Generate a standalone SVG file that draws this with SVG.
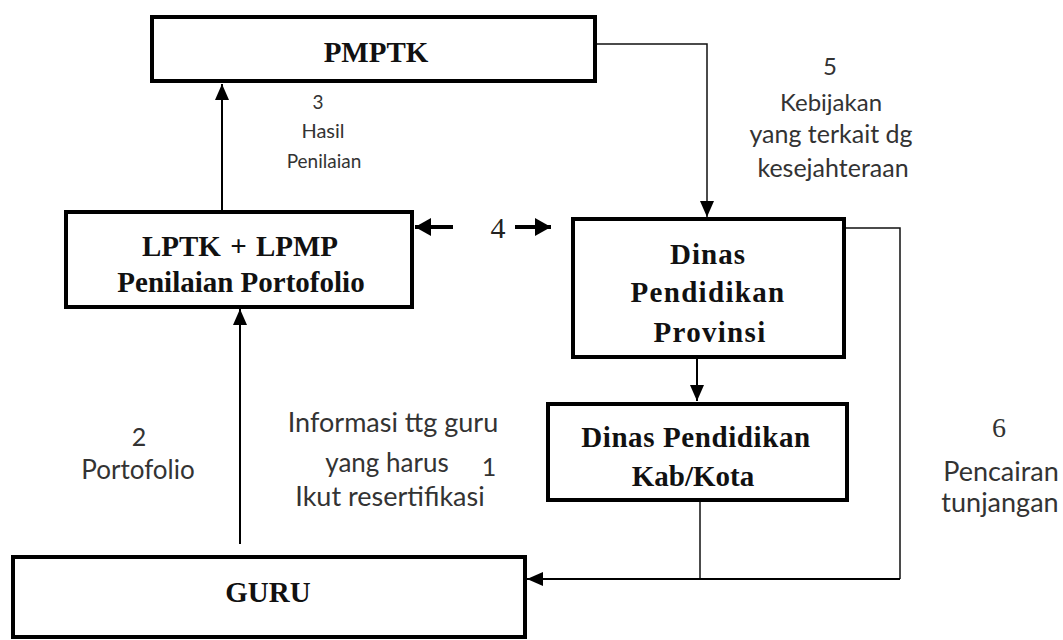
<svg xmlns="http://www.w3.org/2000/svg" width="1063" height="640" viewBox="0 0 1063 640">
<defs>
<style>
.box{fill:#fff;stroke:#000;stroke-width:4}
.node{font-family:"Liberation Serif","Times New Roman",serif;font-weight:bold;font-size:29px;fill:#111;text-anchor:middle}
.lbl{font-family:Lato,"Open Sans",sans-serif;fill:#333;text-anchor:middle}
.conn{fill:none;stroke:#000;stroke-width:2}
.thin{fill:none;stroke:#111;stroke-width:1.5}
.thick{fill:none;stroke:#000;stroke-width:4}
</style>
<marker id="ah" markerUnits="userSpaceOnUse" viewBox="0 0 16 14" markerWidth="16" markerHeight="14" refX="16" refY="7" orient="auto">
<path d="M0,0 L16,7 L0,14 z" fill="#000"/>
</marker>
<marker id="ahb" markerUnits="userSpaceOnUse" viewBox="0 0 16 18" markerWidth="16" markerHeight="18" refX="16" refY="9" orient="auto">
<path d="M0,0 L16,9 L0,18 z" fill="#000"/>
</marker>
</defs>
<rect width="1063" height="640" fill="#fff"/>

<g id="connectors">
<path class="conn" d="M222,211 L222,84" marker-end="url(#ah)"/>
<path class="thin" d="M595,44 L707,44 L707,217" marker-end="url(#ah)"/>
<path class="conn" d="M240,544 L240,309" marker-end="url(#ah)"/>
<path class="conn" d="M697,358 L697,401" marker-end="url(#ah)"/>
<path class="thin" d="M844,228 L900,228 L900,579"/>
<path class="thin" d="M700,501 L700,579"/>
<path class="conn" d="M900,579 L527,579" marker-end="url(#ah)"/>
<path class="thick" d="M453,227 L415,227" marker-end="url(#ahb)"/>
<path class="thick" d="M515,227 L551,227" marker-end="url(#ahb)"/>
</g>

<g id="pmptk">
<rect class="box" x="152" y="17" width="443" height="64"/>
<text class="node" x="376" y="62" font-size="30">PMPTK</text>
</g>

<g id="lptk">
<rect class="box" x="66" y="212" width="346" height="95"/>
<text class="node" x="240" y="256" font-size="32" word-spacing="2">LPTK + LPMP</text>
<text class="node" x="241" y="292" font-size="30">Penilaian Portofolio</text>
</g>

<g id="dinas-prov">
<rect class="box" x="573" y="219" width="271" height="138"/>
<text class="node" x="708" y="264" letter-spacing="1">Dinas</text>
<text class="node" x="708" y="302" letter-spacing="1.3">Pendidikan</text>
<text class="node" x="710" y="342" letter-spacing="1.3">Provinsi</text>
</g>

<g id="dinas-kab">
<rect class="box" x="548" y="404" width="299" height="96"/>
<text class="node" x="696" y="447" font-size="31" letter-spacing="0.6">Dinas Pendidikan</text>
<text class="node" x="693" y="486" font-size="31">Kab/Kota</text>
</g>

<g id="guru">
<rect class="box" x="13" y="557" width="512" height="80"/>
<text class="node" x="268" y="602" font-size="31">GURU</text>
</g>

<g id="labels">
<text class="lbl" x="318" y="109" font-size="19">3</text>
<text class="lbl" x="323" y="138" font-size="20">Hasil</text>
<text class="lbl" x="324" y="168" font-size="19">Penilaian</text>

<text x="498" y="238" font-family="Liberation Serif,serif" font-size="30" fill="#222" text-anchor="middle">4</text>

<text class="lbl" x="830" y="75" font-size="24">5</text>
<text class="lbl" x="831" y="111" font-size="24">Kebijakan</text>
<text class="lbl" x="831" y="143" font-size="25">yang terkait dg</text>
<text class="lbl" x="833" y="177" font-size="25">kesejahteraan</text>

<text class="lbl" x="139" y="446" font-size="25">2</text>
<text class="lbl" x="138" y="479" font-size="26">Portofolio</text>

<text class="lbl" x="393" y="432" font-size="27">Informasi ttg guru</text>
<text class="lbl" x="387" y="472" font-size="26">yang harus</text>
<text class="lbl" x="489" y="476" font-size="25">1</text>
<text class="lbl" x="390" y="506" font-size="27">Ikut resertifikasi</text>

<text x="999" y="437" font-family="Liberation Serif,serif" font-size="28" fill="#333" text-anchor="middle">6</text>
<text class="lbl" x="1001" y="481" font-size="27">Pencairan</text>
<text class="lbl" x="1000" y="512" font-size="27">tunjangan</text>
</g>
</svg>
